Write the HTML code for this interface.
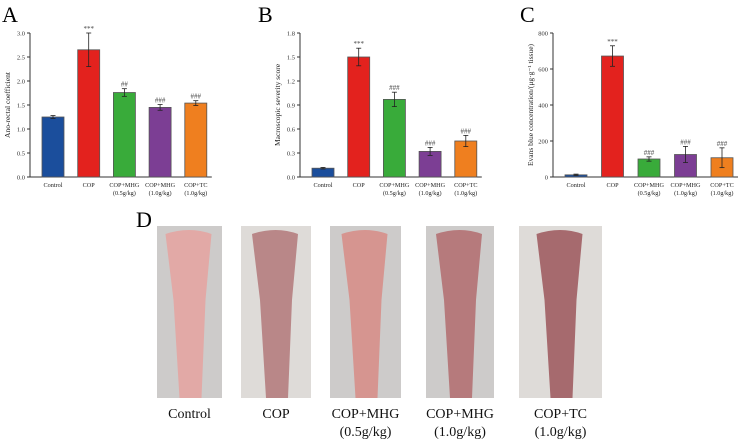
<!DOCTYPE html>
<html><head><meta charset="utf-8"><style>
body{margin:0;background:#fff;width:753px;height:441px;overflow:hidden;font-family:"Liberation Serif",serif}
svg{position:absolute;left:0;top:0}
</style></head><body>
<svg id="fig" width="753" height="441" font-family="Liberation Serif, serif"></svg>
<script>
const categories=["Control","COP","COP+MHG","COP+MHG","COP+TC"];
const sublabels=["","","(0.5g/kg)","(1.0g/kg)","(1.0g/kg)"];
const colors=["#1b4e9c","#e3221e","#39ab3a","#7c3e94","#ef7f1f"];
const valuesA=[1.25,2.65,1.76,1.45,1.54];
const errorsA=[0.03,0.35,0.08,0.06,0.05];
const marksA=["","***","##","###","###"];
const ticksA=[0,0.5,1.0,1.5,2.0,2.5,3.0];
const valuesB=[0.11,1.50,0.97,0.32,0.45];
const errorsB=[0.01,0.11,0.09,0.05,0.07];
const marksB=["","***","###","###","###"];
const ticksB=[0,0.3,0.6,0.9,1.2,1.5,1.8];
const valuesC=[12,672,100,125,107];
const errorsC=[4,57,12,45,55];
const marksC=["","***","###","###","###"];
const ticksC=[0,200,400,600,800];
const photoLabels=["Control","COP","COP+MHG","COP+MHG","COP+TC"];
const photoSubs=["","","(0.5g/kg)","(1.0g/kg)","(1.0g/kg)"];

const NS="http://www.w3.org/2000/svg";
const svg=document.getElementById('fig');
function mk(tag,attrs,parent,text){const e=document.createElementNS(NS,tag);for(const k in attrs)e.setAttribute(k,attrs[k]);if(text!==undefined)e.textContent=text;(parent||svg).appendChild(e);return e;}

function panel(opt){
  const g=mk('g',{});
  
  
  const y0=177,y1=33,max=opt.ticks[opt.ticks.length-1];
  const ys=v=>y0-(v/max)*(y0-y1);
  const xs=i=>opt.x0+12+i*opt.step;
  const bw=22;
  const letter=mk('text',{x:opt.letterX,y:22,'font-size':22},g,opt.letter);
  
  
  const ax=mk('line',{x1:opt.x0,y1:y1,x2:opt.x0,y2:y0,stroke:'#333','stroke-width':1},g);
  
  const bx=mk('line',{x1:opt.x0,y1:y0,x2:xs(4)+bw+5,y2:y0,stroke:'#333','stroke-width':1},g);
  
  opt.ticks.forEach(t=>{
    mk('line',{x1:opt.x0-3,x2:opt.x0,y1:ys(t),y2:ys(t),stroke:'#333'},g);
    const tl=mk('text',{x:opt.x0-5,y:ys(t)+2.5,'font-size':6.5,'text-anchor':'end',fill:'#333'},g,opt.fmt(t));
    
  });
  const yt=mk('text',{x:0,y:0,'font-size':7.5,'text-anchor':'middle',fill:'#222',transform:`translate(${opt.x0-20},105) rotate(-90)`},g,opt.ylabel);
  
  opt.values.forEach((v,i)=>{
    const x=xs(i);
    const r=mk('rect',{x:x,y:ys(v),width:bw,height:y0-ys(v),fill:colors[i],stroke:'#555','stroke-width':0.8},g);
    
    const e=opt.errors[i],cx=x+bw/2;
    mk('line',{x1:cx,x2:cx,y1:ys(v+e),y2:ys(v-e),stroke:'#222','stroke-width':0.8},g);
    mk('line',{x1:cx-2.5,x2:cx+2.5,y1:ys(v+e),y2:ys(v+e),stroke:'#222','stroke-width':0.8},g);
    mk('line',{x1:cx-2.5,x2:cx+2.5,y1:ys(v-e),y2:ys(v-e),stroke:'#222','stroke-width':0.8},g);
    if(opt.marks[i]){const m=mk('text',{x:cx,y:ys(v+e)-2,'font-size':7,'text-anchor':'middle',fill:'#444'},g,opt.marks[i]);
      }
    const c=mk('text',{x:cx,y:187,'font-size':6.2,'text-anchor':'middle',fill:'#222'},g,categories[i]);
    
    if(sublabels[i]){const s=mk('text',{x:cx,y:195,'font-size':6.2,'text-anchor':'middle',fill:'#222'},g,sublabels[i]);
      }
  });
}
panel({name:'chart-a',letter:'A',letterX:2,x0:30,step:35.7,ticks:ticksA,values:valuesA,errors:errorsA,marks:marksA,ylabel:'Ano-rectal coefficient',fmt:t=>t.toFixed(1)});
panel({name:'chart-b',letter:'B',letterX:258,x0:300,step:35.7,ticks:ticksB,values:valuesB,errors:errorsB,marks:marksB,ylabel:'Macroscopic severity score',fmt:t=>t.toFixed(1)});
panel({name:'chart-c',letter:'C',letterX:520,x0:553,step:36.5,ticks:ticksC,values:valuesC,errors:errorsC,marks:marksC,ylabel:'Evans blue concentration/(μg·g⁻¹ tissue)',fmt:t=>String(t)});

const dl=mk('text',{x:136,y:227,'font-size':22},svg,'D');

const boxes=[[157,65],[241,70],[330,71],[426,68],[519,83]];
const tissue=["#e2a9a6","#b98788","#d69590","#b67a7c","#a66a6e"];
boxes.forEach((b,i)=>{
  const g=mk('g',{});
  
  
  mk('rect',{x:b[0],y:226,width:b[1],height:172,fill:i==1||i==4?'#dedbd8':'#cdcbca'},g);
  const cx=b[0]+b[1]/2;
  mk('path',{d:`M${cx-24},234 Q${cx},226 ${cx+22},234 L${cx+16},300 L${cx+12},398 L${cx-10},398 L${cx-16},300 Z`,fill:tissue[i]},g);
  const t=mk('text',{x:b[0]+b[1]/2,y:418,'font-size':14,'text-anchor':'middle',fill:'#111'},svg,photoLabels[i]);
  
  if(photoSubs[i]){const s=mk('text',{x:b[0]+b[1]/2,y:436,'font-size':14,'text-anchor':'middle',fill:'#111'},svg,photoSubs[i]);
    }
});
</script>
</body></html>
